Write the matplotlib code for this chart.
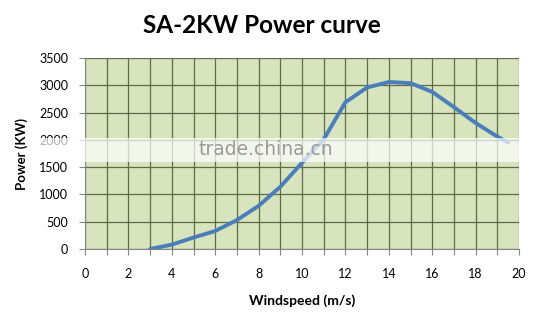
import numpy as np
import matplotlib.pyplot as plt
from matplotlib.patches import Rectangle

# Power curve
wind_speed = [3, 4, 5, 6, 7, 8, 9, 10, 11, 12, 13, 14, 15, 16, 17, 18, 19, 19.5]
power = [0, 80, 210, 330, 530, 790, 1140, 1580, 2010, 2690, 2960, 3060, 3040, 2880, 2600, 2310, 2060, 1950]

x_ticks = [0, 2, 4, 6, 8, 10, 12, 14, 16, 18, 20]
y_ticks = [0, 500, 1000, 1500, 2000, 2500, 3000, 3500]

plt.rcParams['font.family'] = ['Lato', 'DejaVu Sans']

fig = plt.figure(figsize=(5.35, 3.17), dpi=100)
ax = fig.add_axes([0.1589, 0.2145, 0.8112, 0.6025])
ax.set_facecolor('#d7e4bd')

ax.plot(wind_speed, power, color='#4a7ebb', linewidth=2.8, solid_capstyle='round', zorder=3)

ax.set_xlim(0, 20)
ax.set_ylim(0, 3500)
ax.set_xticks(np.arange(0, 21, 1))
ax.set_xticklabels([str(t) if t in x_ticks else '' for t in range(21)])
ax.set_yticks(y_ticks)
ax.grid(True, color='#5e6a4a', linewidth=0.9, zorder=1)
ax.set_axisbelow(True)
for s in ax.spines.values():
    s.set_visible(False)
ax.spines['left'].set_visible(True)
ax.spines['bottom'].set_visible(True)
ax.spines['left'].set_color('#868686')
ax.spines['bottom'].set_color('#868686')
ax.tick_params(axis='x', direction='out', length=4, color='#868686', pad=10, labelsize=9)
ax.tick_params(axis='y', direction='out', length=4, color='#868686', pad=8, labelsize=9)

ax.set_xlabel('Windspeed (m/s)', fontsize=10, fontweight='bold', labelpad=10)
ax.set_ylabel('Power (KW)', fontsize=9.5, fontweight='bold', labelpad=8)

fig.suptitle('SA-2KW Power curve', x=0.49, y=0.955, fontsize=17.5, fontweight='bold')

# watermark band across the middle
fig.patches.append(Rectangle((0.07, 0.49), 0.91, 0.075, transform=fig.transFigure,
                             facecolor='white', alpha=0.7, edgecolor='none', zorder=5))
fig.text(0.497, 0.527, 'trade.china.cn', fontsize=13.5, color='#9a9a9a',
         ha='center', va='center', zorder=6, family='DejaVu Sans')

fig.savefig('out.png', dpi=100)
